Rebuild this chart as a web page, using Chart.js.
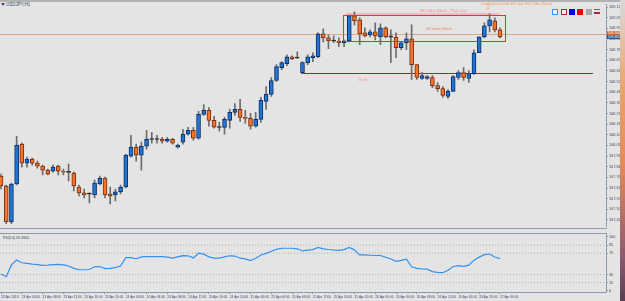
<!DOCTYPE html>
<html lang="en">
<head>
<meta charset="UTF-8">
<title>USDJPY,H1</title>
<script src="https://cdn.jsdelivr.net/npm/chart.js"></script>
<style>
  body { margin:0; width:625px; height:301px; overflow:hidden; position:relative; background:#e4e4e4; font-family:"Liberation Sans", Arial, sans-serif; }
  canvas { position:absolute; left:0; }
  #mainChart { top:0; }
  #rsiChart { top:231px; }
  .topbar { position:absolute; left:0; top:0; width:620px; height:2px; background:#b2b2b2; }
  .sep { position:absolute; left:0; width:607px; height:1px; background:#8d9aae; }
  .wall { position:absolute; left:620px; top:0; width:5px; height:301px;
          background:linear-gradient(#dadada 0%, #e9a36c 30%, #e38a5a 55%, #8c5a6e 85%, #5a3f55 100%); }
  .title { position:absolute; left:6px; top:2px; font-size:4.5px; color:#3a4a60; white-space:nowrap; }
  .title:before { content:""; position:absolute; left:-5px; top:1px; border:2px solid transparent; border-top:3px solid #3a4a60; }
  .tool { position:absolute; top:9px; width:6px; height:6px; box-sizing:border-box; }
  .rsiLabel { position:absolute; left:3px; top:236px; font-size:3.5px; color:#3a4a60; white-space:nowrap; }
  .pbox { position:absolute; left:607px; width:14px; height:4px; font-size:3.5px; line-height:4px; color:#fff; text-align:center; }
</style>
</head>
<body>
<div class="topbar"></div>
<div class="title">USDJPY,H1</div>
<canvas id="mainChart" width="620" height="230"></canvas>
<div class="sep" style="top:228px"></div>
<canvas id="rsiChart" width="620" height="70"></canvas>
<div class="sep" style="top:233px"></div>
<div class="rsiLabel">RSI(14) 59.3364</div>
<div class="tool" style="left:552px;border:1px solid #3b8ef0;background:#eef3fb"></div>
<div class="tool" style="left:561px;border:1px solid #a03030;background:#f2eaea"></div>
<div class="tool" style="left:569px;background:#0000f0"></div>
<div class="tool" style="left:577px;background:#f00000"></div>
<div class="tool" style="left:586px;background:#a8a8a8"></div>
<div class="tool" style="left:594px;border-top:1px solid #2a7ae0;border-bottom:2px solid #c02020;height:5px"></div>
<div class="pbox" style="top:31px;background:#c8683a">108.906</div>
<div class="pbox" style="top:35px;background:#34506e">108.882</div>
<div class="wall"></div>

<script>
// USDJPY hourly candles
const openP = [107.771,107.691,107.405,107.707,108.025,107.874,107.906,107.874,107.850,107.818,
  107.810,107.850,107.810,107.802,107.794,107.683,107.636,107.628,107.620,107.707,
  107.755,107.628,107.620,107.644,107.683,107.929,108.001,107.937,108.009,108.064,
  108.062,108.064,108.048,108.064,108.001,108.041,108.104,108.136,108.072,108.263,
  108.295,108.215,108.160,108.158,108.215,108.279,108.303,108.239,108.231,108.168,
  108.223,108.366,108.422,108.533,108.636,108.668,108.723,108.715,108.596,108.676,
  108.715,108.723,108.906,108.874,108.850,108.848,108.835,108.850,109.049,109.017,
  108.914,108.898,108.922,108.882,108.954,108.882,108.880,108.795,108.835,108.866,
  108.660,108.549,108.549,108.557,108.493,108.469,108.406,108.446,108.557,108.596,
  108.549,108.588,108.755,108.882,108.970,109.009,108.938];
const highP = [107.786,107.699,107.715,108.088,108.033,107.921,107.914,107.890,107.858,107.826,
  107.858,107.858,107.826,107.866,107.802,107.699,107.667,107.636,107.739,107.771,
  107.763,107.683,107.667,107.699,107.945,108.096,108.025,108.041,108.136,108.120,
  108.096,108.080,108.080,108.072,108.025,108.144,108.160,108.160,108.287,108.342,
  108.318,108.247,108.199,108.239,108.303,108.350,108.382,108.295,108.271,108.279,
  108.398,108.485,108.557,108.660,108.684,108.739,108.731,108.763,108.684,108.739,
  108.755,108.914,108.946,108.898,108.890,108.874,108.858,109.057,109.081,109.033,
  108.954,108.938,108.993,108.985,108.962,108.938,108.914,108.842,108.914,108.977,
  108.660,108.596,108.573,108.573,108.517,108.485,108.461,108.573,108.612,108.636,
  108.612,108.779,108.882,108.993,109.065,109.033,108.954];
const lowP = [107.667,107.390,107.390,107.699,107.842,107.842,107.858,107.834,107.779,107.779,
  107.802,107.779,107.779,107.731,107.651,107.612,107.596,107.556,107.596,107.699,
  107.596,107.548,107.572,107.628,107.675,107.921,107.890,107.818,107.985,108.033,
  108.033,108.033,108.041,108.025,107.993,108.025,108.096,108.056,108.064,108.255,
  108.168,108.152,108.128,108.104,108.152,108.255,108.207,108.191,108.144,108.160,
  108.199,108.303,108.406,108.525,108.620,108.652,108.700,108.708,108.588,108.660,
  108.684,108.715,108.842,108.787,108.835,108.803,108.803,108.842,108.977,108.819,
  108.882,108.882,108.858,108.819,108.874,108.676,108.715,108.779,108.779,108.541,
  108.541,108.541,108.541,108.477,108.446,108.398,108.390,108.446,108.541,108.533,
  108.517,108.581,108.755,108.874,108.922,108.922,108.874];
const closeP = [107.691,107.405,107.707,108.017,107.874,107.906,107.874,107.850,107.818,107.786,
  107.842,107.810,107.802,107.800,107.691,107.636,107.620,107.626,107.715,107.755,
  107.620,107.612,107.644,107.683,107.937,108.001,107.937,108.009,108.064,108.062,
  108.064,108.048,108.064,108.033,108.017,108.104,108.136,108.072,108.263,108.295,
  108.215,108.160,108.158,108.223,108.279,108.303,108.239,108.231,108.168,108.223,
  108.374,108.422,108.533,108.644,108.676,108.723,108.708,108.713,108.676,108.723,
  108.731,108.906,108.874,108.850,108.848,108.835,108.850,109.049,109.009,108.906,
  108.890,108.922,108.890,108.954,108.882,108.880,108.795,108.835,108.866,108.660,
  108.557,108.573,108.565,108.493,108.469,108.414,108.446,108.565,108.596,108.557,
  108.588,108.755,108.882,108.970,109.017,108.938,108.882];
const rsiValues = [31,26,48,57,52,51,49.5,48.5,47,47.5,
  48.5,49,48,46,41.5,39,39,39.5,44.5,45,
  41,41.5,43,46,61.5,61.5,59.5,63,63.5,63.5,
  63.5,63.3,62.4,60.7,63,65.4,65,61,69.8,68,
  63,60.5,60.5,63,65,64.5,60.5,59.3,56.2,60.5,
  66.5,69.5,73.5,77,79,79,79,78,74,75.5,
  76.6,80.5,77.9,76.7,75.8,75,76.5,80.5,76,66.7,
  66.7,66,65.5,65.5,62.2,59,54.8,56.5,58.5,44.5,
  41.5,40.4,40,35.5,34,33.5,38,45,46.8,45.3,
  47.5,56.8,62.5,67,68.3,62.8,59.6];

const priceTicks = [109.120,109.035,108.950,108.865,108.780,108.695,108.610,108.525,108.440,108.355,
  108.270,108.185,108.100,108.015,107.930,107.845,107.760,107.675,107.590,107.505,107.420];
const rsiTicks = [100, 85, 70, 30, 15, 0];
const rsiLevels = [85, 70, 30, 15];
const dateTickIdx = [0,4,8,12,16,20,24,28,32,36,40,44,48,52,56,60,64,68,72,76,80,84,88,92,96];
const dateLabels = ['23 Apr 2018','23 Apr 04:00','23 Apr 08:00','23 Apr 12:00','23 Apr 16:00','23 Apr 20:00',
  '24 Apr 00:00','24 Apr 04:00','24 Apr 08:00','24 Apr 12:00','24 Apr 16:00','24 Apr 20:00',
  '25 Apr 00:00','25 Apr 04:00','25 Apr 08:00','25 Apr 12:00','25 Apr 16:00','25 Apr 20:00',
  '26 Apr 00:00','26 Apr 04:00','26 Apr 08:00','26 Apr 12:00','26 Apr 16:00','26 Apr 20:00','27 Apr 00:00'];

// drawn objects on the price chart (bar index / price)
const bidPrice = 108.906;
const bosLine = { from: 57.8, to: 113.9, price: 108.596 };
const pinkZone = { from: 66.3, to: 95.9, top: 109.073, bottom: 109.049 };
const redZone = { from: 65.8, to: 96.9, top: 109.057, bottom: 108.850 };
const notes = [
  { text: 'Confluence with 4H and 1H Order Block', at: 92.3, price: 109.143, color: '#f0955a' },
  { text: '4H Order Block - Pink Line', at: 80.5, price: 109.085, color: '#f08c80' },
  { text: '1H order Block', at: 81.7, price: 108.944, color: '#f0866a' },
  { text: 'BOS', at: 68.8, price: 108.540, color: '#f2a488' }
];
const arrowMark = { at: 93.7, price: 109.110 };

const xMin = -0.2, xMax = 116.4;
const idx = openP.map((v, i) => i);
const upColor = '#2174d4', downColor = '#f5732a', dojiColor = '#2a2a2a';
const bodyFill = idx.map(i => Math.abs(closeP[i] - openP[i]) < 0.003 ? dojiColor : (closeP[i] > openP[i] ? upColor : downColor));
const bodyEdge = idx.map(i => Math.abs(closeP[i] - openP[i]) < 0.003 ? dojiColor : (closeP[i] > openP[i] ? '#0b2f66' : '#7a2e0c'));

const axisColor = '#8d9aae';
const priceFont = { family: 'Liberation Sans', size: 3.8 };
const dateFont = { family: 'Liberation Sans', size: 3.2 };

const overlay = {
  id: 'overlay',
  beforeDatasetsDraw(chart) {
    const { ctx, scales: { x, y } } = chart;
    ctx.save();
    ctx.strokeStyle = '#e3a688';
    ctx.lineWidth = 1;
    const by = Math.round(y.getPixelForValue(bidPrice)) + 0.5;
    ctx.beginPath(); ctx.moveTo(chart.chartArea.left, by); ctx.lineTo(chart.chartArea.right, by); ctx.stroke();
    ctx.strokeStyle = '#8e2f2f';
    const ly = Math.round(y.getPixelForValue(bosLine.price)) + 0.5;
    ctx.beginPath(); ctx.moveTo(x.getPixelForValue(bosLine.from), ly); ctx.lineTo(x.getPixelForValue(bosLine.to), ly); ctx.stroke();
    ctx.fillStyle = '#f4b9c6';
    const px1 = x.getPixelForValue(pinkZone.from), px2 = x.getPixelForValue(pinkZone.to);
    const py1 = y.getPixelForValue(pinkZone.top), py2 = y.getPixelForValue(pinkZone.bottom);
    ctx.fillRect(px1, py1, px2 - px1, py2 - py1);
    ctx.restore();
  },
  afterDatasetsDraw(chart) {
    const { ctx, scales: { x, y } } = chart;
    ctx.save();
    ctx.strokeStyle = '#d23a3a';
    ctx.lineWidth = 1;
    const rx1 = Math.round(x.getPixelForValue(redZone.from)) + 0.5, rx2 = Math.round(x.getPixelForValue(redZone.to)) + 0.5;
    const ry1 = Math.round(y.getPixelForValue(redZone.top)) + 0.5, ry2 = Math.round(y.getPixelForValue(redZone.bottom)) + 0.5;
    ctx.strokeRect(rx1, ry1, rx2 - rx1, ry2 - ry1);
    ctx.font = '4px "Liberation Sans"';
    ctx.textBaseline = 'middle';
    notes.forEach(n => {
      ctx.fillStyle = n.color;
      ctx.fillText(n.text, x.getPixelForValue(n.at), y.getPixelForValue(n.price));
    });
    ctx.fillStyle = '#f0a040';
    ctx.font = '7px "DejaVu Sans"';
    ctx.textAlign = 'center';
    ctx.fillText('\u21E9', x.getPixelForValue(arrowMark.at), y.getPixelForValue(arrowMark.price));
    ctx.restore();
  }
};

new Chart(document.getElementById('mainChart'), {
  type: 'bar',
  data: {
    datasets: [
      {
        label: 'wicks',
        data: idx.map(i => ({ x: i, y: [lowP[i], highP[i]] })),
        backgroundColor: '#6c6c6c',
        barThickness: 1,
        grouped: false,
        order: 2
      },
      {
        label: 'bodies',
        data: idx.map(i => ({ x: i, y: [openP[i], closeP[i]] })),
        backgroundColor: bodyFill,
        borderColor: bodyEdge,
        borderWidth: 1,
        borderSkipped: false,
        barThickness: 4,
        minBarLength: 1,
        grouped: false,
        order: 1
      }
    ]
  },
  options: {
    responsive: false,
    animation: false,
    events: [],
    layout: { padding: { top: 4, bottom: 2, left: 0, right: 0 } },
    plugins: { legend: { display: false }, tooltip: { enabled: false } },
    scales: {
      x: { type: 'linear', min: xMin, max: xMax, offset: false, display: false },
      y: {
        position: 'right',
        min: 107.366, max: 109.144,
        afterBuildTicks: s => { s.ticks = priceTicks.map(v => ({ value: v })); },
        afterFit: s => { s.width = 14; },
        ticks: { font: priceFont, color: '#3c4c64', padding: 1, callback: v => v.toFixed(3) },
        grid: { drawOnChartArea: false, tickLength: 2, color: axisColor },
        border: { color: axisColor }
      }
    }
  },
  plugins: [overlay]
});

new Chart(document.getElementById('rsiChart'), {
  type: 'line',
  data: {
    datasets: [
      {
        label: 'RSI(14)',
        data: idx.map(i => ({ x: i, y: rsiValues[i] })),
        borderColor: '#3290f2',
        borderWidth: 1.2,
        pointRadius: 0,
        tension: 0
      },
      ...rsiLevels.map(l => ({
        label: 'level ' + l,
        data: [{ x: xMin, y: l }, { x: xMax, y: l }],
        borderColor: '#b0b0b0',
        borderWidth: 1,
        borderDash: [1, 2],
        pointRadius: 0
      }))
    ]
  },
  options: {
    responsive: false,
    animation: false,
    events: [],
    layout: { padding: { top: 3, bottom: 0, left: 0, right: 0 } },
    plugins: { legend: { display: false }, tooltip: { enabled: false } },
    scales: {
      x: {
        type: 'linear', min: xMin, max: xMax, offset: false,
        afterBuildTicks: s => { s.ticks = dateTickIdx.map(v => ({ value: v })); },
        afterFit: s => { s.height = 9; },
        ticks: {
          font: dateFont, color: '#3c4c64', padding: 1, maxRotation: 0, autoSkip: false, align: 'start',
          callback: v => dateLabels[dateTickIdx.indexOf(v)]
        },
        grid: { drawOnChartArea: false, tickLength: 2, color: axisColor },
        border: { color: axisColor }
      },
      y: {
        position: 'right',
        min: -2.4, max: 105,
        afterBuildTicks: s => { s.ticks = rsiTicks.map(v => ({ value: v })); },
        afterFit: s => { s.width = 14; },
        ticks: { font: priceFont, color: '#3c4c64', padding: 1 },
        grid: { drawOnChartArea: false, tickLength: 2, color: axisColor },
        border: { color: axisColor }
      }
    }
  }
});
</script>
</body>
</html>
